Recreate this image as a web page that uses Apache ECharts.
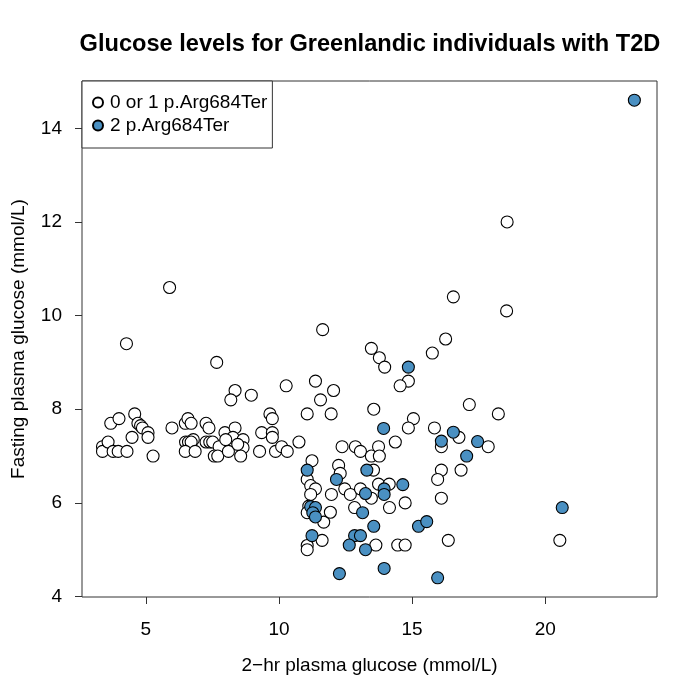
<!DOCTYPE html>
<html>
<head>
<meta charset="utf-8">
<script src="https://cdn.jsdelivr.net/npm/echarts@6/dist/echarts.min.js"></script>
<style>html,body{margin:0;padding:0;background:#fff}#c{width:700px;height:700px}</style>
</head>
<body>
<div id="c"></div>
<script>
// 0 or 1 p.Arg684Ter (white)
const xWhite = [3.37,3.37,3.58,3.68,3.77,3.96,3.99,4.29,4.48,4.58,4.70,4.80,4.87,5.08,5.08,5.27,5.98,6.48,6.58,6.70,6.49,6.60,6.78,6.70,6.48,6.85,7.26,7.37,7.26,7.40,7.51,7.75,7.57,7.70,7.97,
  4.27,5.89,7.66,
  10.27,11.37,8.35,8.19,8.96,11.56,12.05,9.66,9.75,11.06,11.96,8.35,8.27,8.65,8.65,8.00,8.10,8.56,8.45,9.35,9.75,9.75,9.27,9.87,10.10,10.31,10.75,11.24,
  11.64,
  12.37,12.87,13.06,11.06,12.24,12.30,11.19,11.37,11.19,12.47,12.68,11.97,13.06,11.12,11.06,11.68,11.93,12.84,11.06,11.06,11.62,
  13.56,15.05,14.86,15.84,14.37,13.47,13.74,13.77,13.55,13.74,14.14,13.47,14.15,14.74,13.64,14.46,14.74,
  17.15,18.24,16.76,16.10,17.86,16.10,16.84,15.96,16.10,16.36,
  16.55,18.55,13.47,13.77,13.97,16.26,15.76,14.86,14.55,
  18.57,20.55];
const yWhite = [7.2,7.1,7.3,7.7,7.1,7.1,7.8,7.1,7.4,7.9,7.7,7.65,7.6,7.5,7.4,7.0,7.6,7.7,7.8,7.7,7.3,7.3,7.35,7.3,7.1,7.1,7.7,7.6,7.3,7.3,7.3,7.2,7.0,7.0,7.5,
  9.4,10.6,9.0,
  8.5,8.6,8.4,8.2,8.3,8.2,8.4,7.9,7.8,7.9,7.9,7.6,7.4,7.35,7.18,7.35,7.1,7.0,7.25,7.5,7.5,7.4,7.1,7.1,7.2,7.1,7.3,6.9,
  9.7,
  7.2,7.2,7.1,6.5,6.8,6.63,6.37,6.3,6.18,6.3,6.18,6.18,6.3,5.93,5.79,5.59,5.8,5.9,5.09,5.0,5.2,
  8.0,7.8,7.6,7.6,7.3,7.0,7.2,7.0,6.7,6.4,6.4,6.1,5.9,6.0,5.1,5.1,5.1,
  8.1,7.9,7.4,7.2,7.2,6.7,6.7,6.5,6.1,5.2,
  10.4,10.1,9.3,9.1,8.9,9.5,9.2,8.6,8.5,
  12.0,5.2];
// 2 p.Arg684Ter (blue)
const xBlue = [11.06,12.16,13.30,13.25,11.19,11.37,11.27,11.37,13.14,11.24,12.84,13.06,12.64,13.25,12.27,
  13.93,13.95,13.95,14.65,13.56,15.24,15.55,13.95,15.96,16.55,16.10,17.46,17.05,14.86,20.64,23.35];
const yBlue = [6.7,6.5,6.7,6.2,5.92,5.9,5.79,5.7,5.79,5.3,5.3,5.3,5.1,5.0,4.49,
  7.59,6.3,6.18,6.39,5.5,5.5,5.6,4.6,4.4,7.51,7.32,7.31,7.0,8.9,5.9,14.6];
const xTicks = [5,10,15,20];
const yTicks = [4,6,8,10,12,14];
const seriesNames = ['0 or 1 p.Arg684Ter','2 p.Arg684Ter'];

const FONT = "'Liberation Sans', Arial, Helvetica, sans-serif";
const chart = echarts.init(document.getElementById('c'), null, {renderer:'canvas'});
const pairs = (xs, ys) => xs.map((x,i)=>[x, ys[i]]);
chart.setOption({
  animation: false,
  backgroundColor: '#fff',
  textStyle: {fontFamily: FONT, color: '#000'},
  title: {
    text: 'Glucose levels for Greenlandic individuals with T2D',
    left: 370, top: 32, textAlign: 'center', padding: 0,
    textStyle: {fontFamily: FONT, fontWeight: 'bold', fontSize: 23.6, color: '#000'}
  },
  legend: {
    orient: 'vertical', left: 82, top: 81,
    padding: [12, 5, 13, 10], itemGap: 4,
    itemWidth: 14, itemHeight: 10,
    borderColor: '#333', borderWidth: 1, backgroundColor: '#fff',
    textStyle: {fontFamily: FONT, fontSize: 19, color: '#000'},
    data: seriesNames
  },
  grid: {left: 82, right: 43, top: 81, bottom: 103, containLabel: false, outerBoundsMode: 'none',
    show: true, borderColor: '#333', borderWidth: 1, backgroundColor: 'transparent'},
  xAxis: {
    type: 'value', min: 2.6, max: 24.2,
    name: '2\u2212hr plasma glucose (mmol/L)', nameLocation: 'middle', nameGap: 59,
    nameTextStyle: {fontFamily: FONT, fontSize: 19, color: '#000'},
    axisLine: {show: false},
    splitLine: {show: false},
    axisTick: {show: true, length: 7, inside: false, customValues: xTicks, lineStyle: {color: '#333'}},
    axisLabel: {customValues: xTicks, margin: 23, fontSize: 19, color: '#000', fontFamily: FONT}
  },
  yAxis: {
    type: 'value', min: 3.99, max: 15.01,
    name: 'Fasting plasma glucose (mmol/L)', nameLocation: 'middle', nameGap: 54, nameRotate: 90,
    nameTextStyle: {fontFamily: FONT, fontSize: 19, color: '#000'},
    axisLine: {show: false},
    splitLine: {show: false},
    axisTick: {show: true, length: 7, inside: false, customValues: yTicks, lineStyle: {color: '#333'}},
    axisLabel: {customValues: yTicks, margin: 20, fontSize: 19, color: '#000', fontFamily: FONT}
  },
  series: [
    {name: seriesNames[0], type: 'scatter', symbol: 'circle', symbolSize: 12,
     itemStyle: {color: '#ffffff', borderColor: '#000', borderWidth: 1.1, opacity: 1},
     data: pairs(xWhite, yWhite), z: 2},
    {name: seriesNames[1], type: 'scatter', symbol: 'circle', symbolSize: 12,
     itemStyle: {color: '#4A90C2', borderColor: '#000', borderWidth: 1.1, opacity: 1},
     data: pairs(xBlue, yBlue), z: 3}
  ]
});
</script>
</body>
</html>
